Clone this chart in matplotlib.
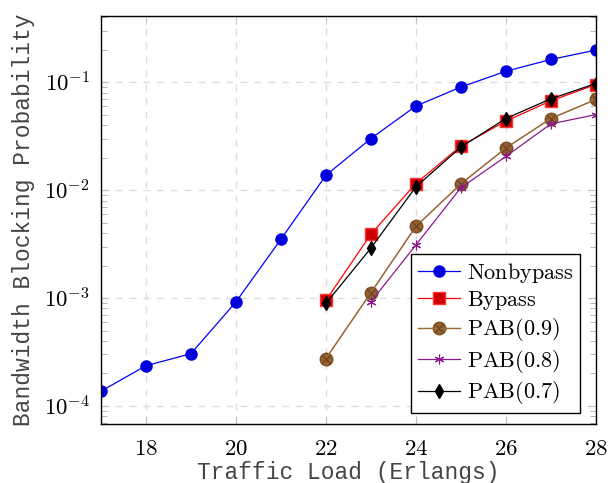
import numpy as np
import matplotlib
matplotlib.use("Agg")
import matplotlib.pyplot as plt
from matplotlib.legend_handler import HandlerTuple
from matplotlib.ticker import FuncFormatter, FixedLocator

plt.rcParams['mathtext.fontset'] = 'cm'

# data
load_all = [17, 18, 19, 20, 21, 22, 23, 24, 25, 26, 27, 28]
nonbypass = [1.37e-4, 2.36e-4, 3.05e-4, 9.2e-4, 3.5e-3, 1.37e-2, 3.0e-2,
             6.0e-2, 9.0e-2, 0.126, 0.162, 0.198]

load_22 = [22, 23, 24, 25, 26, 27, 28]
bypass = [9.5e-4, 3.9e-3, 1.15e-2, 2.56e-2, 4.35e-2, 6.7e-2, 0.095]
pab09 = [2.75e-4, 1.12e-3, 4.6e-3, 1.14e-2, 2.45e-2, 4.6e-2, 0.069]
pab07 = [8.9e-4, 2.9e-3, 1.07e-2, 2.5e-2, 4.6e-2, 7.0e-2, 0.097]

load_23 = [23, 24, 25, 26, 27, 28]
pab08 = [9.2e-4, 3.1e-3, 1.05e-2, 2.05e-2, 4.1e-2, 5.0e-2]

xticks = [18, 20, 22, 24, 26, 28]
yticks = [1e-4, 1e-3, 1e-2, 1e-1]
names = ['Nonbypass', 'Bypass', 'PAB(0.9)', 'PAB(0.8)', 'PAB(0.7)']

fig = plt.figure(figsize=(6.08, 4.83), dpi=100)
ax = fig.add_axes([0.166, 0.122, 0.814, 0.845])

h1, = ax.plot(load_all, nonbypass, color='blue', lw=0.9, marker='o', ms=8,
              mfc='#0000dd', mec='#0000dd')
h2, = ax.plot(load_22, bypass, color='red', lw=0.9, marker='s', ms=8,
              mfc='#cc0000', mec='#ff3333')
h3, = ax.plot(load_22, pab09, color='#9c6b3c', lw=0.9, marker='o', ms=9,
              mfc='#93602f', mec='#7a4d22')
h3x, = ax.plot(load_22, pab09, color='#9c6b3c', lw=0.9, marker='x', ms=6,
               mew=0.6, mec='#5a3414')
h4, = ax.plot(load_23, pab08, color='#8a1a8a', lw=0.9, marker=(6, 2, 0),
              ms=7, mew=0.8, mec='#8a1a8a')
h5, = ax.plot(load_22, pab07, color='black', lw=0.9, marker='d', ms=7,
              mfc='black', mec='black')

ax.set_yscale('log')
ax.set_xlim(17, 28)
ax.set_ylim(6.8e-5, 0.41)
ax.xaxis.set_major_locator(FixedLocator(xticks))
ax.yaxis.set_major_locator(FixedLocator(yticks))
ax.xaxis.set_major_formatter(FuncFormatter(lambda v, p: r'$%d$' % v))
ax.yaxis.set_major_formatter(
    FuncFormatter(lambda v, p: r'$10^{%d}$' % round(np.log10(v))))

ax.grid(True, which='major', ls=(0, (5, 5)), color='#dddddd', lw=1)
ax.tick_params(which='both', direction='in', top=True, right=True)
ax.tick_params(which='major', length=6, width=0.6, color='#bbbbbb',
               labelsize=16.5)
ax.tick_params(axis='x', which='major', pad=9)
ax.tick_params(axis='y', which='major', pad=8)
ax.tick_params(which='minor', length=4, width=0.6, color='#aaaaaa')
ax.tick_params(axis='x', which='minor', bottom=False, top=False)
for s in ax.spines.values():
    s.set_linewidth(1.0)

ax.set_xlabel('Traffic Load (Erlangs)', family='Liberation Mono',
              fontsize=16.5, color='#444444', labelpad=1)
ax.set_ylabel('Bandwidth Blocking Probability', family='Liberation Mono',
              fontsize=16.5, color='#444444', labelpad=6)

leg = ax.legend([h1, h2, (h3, h3x), h4, h5],
                [r'$\mathrm{%s}$' % n for n in names],
                handler_map={tuple: HandlerTuple(ndivide=1, pad=0)},
                loc='lower right', bbox_to_anchor=(0.968, 0.027),
                borderaxespad=0, fontsize=16, fancybox=False,
                edgecolor='black', framealpha=1, handlelength=1.9,
                labelspacing=0.2, borderpad=0.3, handletextpad=0.3)
leg.get_frame().set_linewidth(1.0)

fig.savefig('out.png', dpi=100)
